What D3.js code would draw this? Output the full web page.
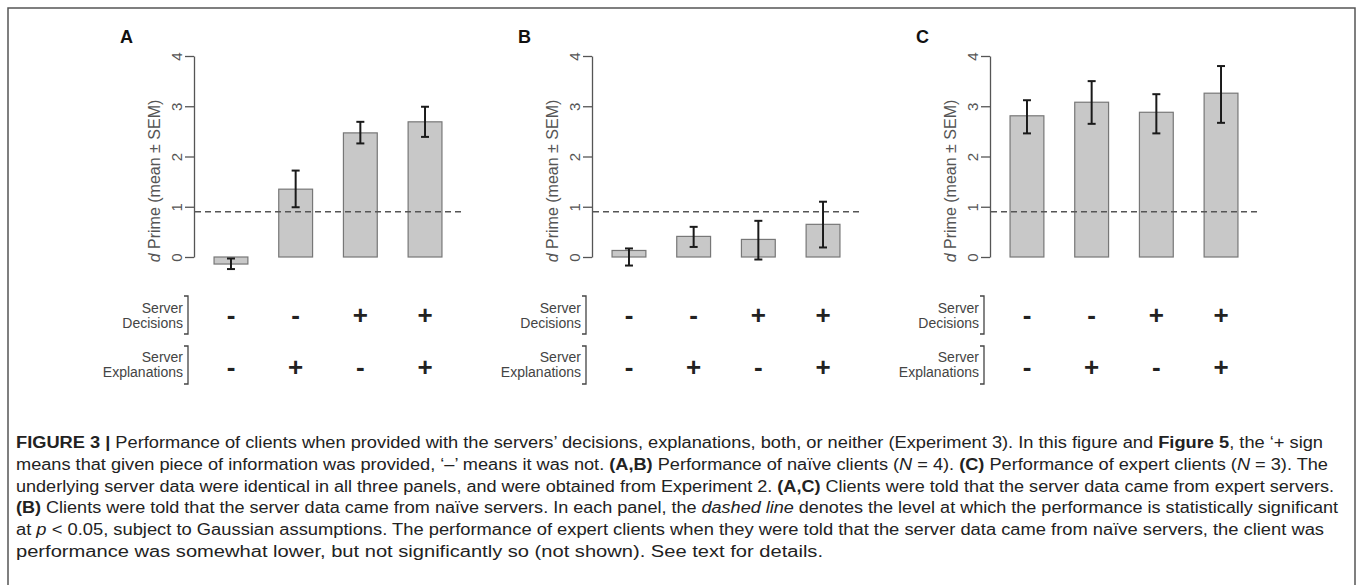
<!DOCTYPE html>
<html>
<head>
<meta charset="utf-8">
<script src="https://cdn.jsdelivr.net/npm/d3@7"></script>
<style>
  body { margin: 0; background: #fff; }
  svg text { font-family: "Liberation Sans", Arial, sans-serif; }
</style>
</head>
<body>
<script>
// panels and conditions
var panels = ["A", "B", "C"];
var conditions = [0, 1, 2, 3];
var decisions = ["-", "-", "+", "+"];
var explanations = ["-", "+", "-", "+"];

// d prime mean and error bar ends, per panel
var meanA = [-0.14, 1.35, 2.47, 2.69];
var lowA  = [-0.24, 0.99, 2.26, 2.39];
var highA = [-0.03, 1.72, 2.69, 2.99];

var meanB = [0.13, 0.41, 0.35, 0.65];
var lowB  = [-0.17, 0.20, -0.05, 0.19];
var highB = [0.17, 0.60, 0.72, 1.10];

var meanC = [2.81, 3.08, 2.88, 3.26];
var lowC  = [2.46, 2.65, 2.46, 2.67];
var highC = [3.12, 3.50, 3.24, 3.80];

var yTicks = [0, 1, 2, 3, 4];
var threshold = 0.9;

var panelData = [
  {name: panels[0], mean: meanA, low: lowA, high: highA},
  {name: panels[1], mean: meanB, low: lowB, high: highB},
  {name: panels[2], mean: meanC, low: lowC, high: highC}
];

var svg = d3.select("body").append("svg")
    .attr("width", 1358)
    .attr("height", 585);

// frame
svg.append("rect")
    .attr("x", 8).attr("y", 8)
    .attr("width", 1347).attr("height", 620)
    .attr("fill", "none")
    .attr("stroke", "#555")
    .attr("stroke-width", 1.5);

var y = d3.scaleLinear().domain([0, 4]).range([257, 56]);
var x = d3.scaleBand().domain(conditions).range([0, 268])
    .paddingInner(0.477).paddingOuter(0.31);

panelData.forEach(function(p, i) {
  var ox = 194 + i * 398;
  var g = svg.append("g").attr("transform", "translate(" + ox + ",0)");

  g.append("text")
      .attr("x", -74).attr("y", 43)
      .attr("font-size", 18).attr("font-weight", "bold").attr("fill", "#111")
      .text(p.name);

  // y axis, R style with rotated labels
  var ax = g.append("g")
      .attr("class", "y axis")
      .call(d3.axisLeft(y).tickValues(yTicks).tickFormat(d3.format("d"))
        .tickSize(9).tickSizeOuter(0));
  ax.select(".domain").attr("stroke", "#555").attr("stroke-width", 1.3);
  ax.selectAll(".tick line").attr("stroke", "#555").attr("stroke-width", 1.3);
  ax.selectAll(".tick text")
      .attr("x", 0).attr("dy", 0)
      .attr("text-anchor", "middle")
      .attr("transform", "translate(-12,0) rotate(-90)")
      .attr("font-size", 15)
      .attr("font-family", "Liberation Sans, Arial, sans-serif")
      .attr("fill", "#555");

  var title = g.append("text")
      .attr("transform", "translate(-34,181) rotate(-90)")
      .attr("text-anchor", "middle")
      .attr("font-size", 16)
      .attr("fill", "#555");
  title.append("tspan").attr("font-style", "italic").text("d");
  title.append("tspan").text(" Prime (mean \u00b1 SEM)");

  // bars
  g.selectAll(".bar")
      .data(conditions)
    .enter().append("rect")
      .attr("class", "bar")
      .attr("x", function(d) { return x(d); })
      .attr("width", x.bandwidth())
      .attr("y", function(d) { return y(Math.max(0, p.mean[d])); })
      .attr("height", function(d) { return Math.abs(y(p.mean[d]) - y(0)); })
      .attr("fill", "#c8c8c8")
      .attr("stroke", "#777")
      .attr("stroke-width", 1.2);

  // significance level
  g.append("line")
      .attr("x1", 1).attr("x2", 268)
      .attr("y1", y(threshold)).attr("y2", y(threshold))
      .attr("stroke", "#555")
      .attr("stroke-width", 1.5)
      .attr("stroke-dasharray", "6,4");

  // error bars
  var eb = g.selectAll(".err")
      .data(conditions)
    .enter().append("g")
      .attr("class", "err")
      .attr("stroke", "#1a1a1a")
      .attr("stroke-width", 2);
  eb.append("line")
      .attr("x1", function(d) { return x(d) + x.bandwidth() / 2; })
      .attr("x2", function(d) { return x(d) + x.bandwidth() / 2; })
      .attr("y1", function(d) { return y(p.low[d]); })
      .attr("y2", function(d) { return y(p.high[d]); });
  ["low", "high"].forEach(function(k) {
    eb.append("line")
        .attr("x1", function(d) { return x(d) + x.bandwidth() / 2 - 4; })
        .attr("x2", function(d) { return x(d) + x.bandwidth() / 2 + 4; })
        .attr("y1", function(d) { return y(p[k][d]); })
        .attr("y2", function(d) { return y(p[k][d]); });
  });

  // condition table under the bars
  var rows = [
    {lines: ["Server", "Decisions"], signs: decisions, top: 296, base: 313, signBase: 324},
    {lines: ["Server", "Explanations"], signs: explanations, top: 346, base: 362, signBase: 376}
  ];
  rows.forEach(function(r) {
    r.lines.forEach(function(t, j) {
      g.append("text")
          .attr("x", -11).attr("y", r.base + j * 15)
          .attr("text-anchor", "end")
          .attr("font-size", 14)
          .attr("fill", "#444")
          .text(t);
    });
    g.append("path")
        .attr("d", "M-10," + r.top + "H-6V" + (r.top + 38) + "H-10")
        .attr("fill", "none")
        .attr("stroke", "#444")
        .attr("stroke-width", 1.3);
    g.selectAll(null)
        .data(conditions)
      .enter().append("text")
        .attr("x", function(d) { return x(d) + x.bandwidth() / 2; })
        .attr("y", r.signBase)
        .attr("text-anchor", "middle")
        .attr("font-size", 26)
        .attr("font-weight", "bold")
        .attr("fill", "#222")
        .text(function(d) { return r.signs[d]; });
  });
});

// caption
var caption = [
  [["b", "FIGURE 3 | "], ["", "Performance of clients when provided with the servers\u2019 decisions, explanations, both, or neither (Experiment 3). In this figure and "], ["b", "Figure 5"], ["", ", the \u2018+ sign"]],
  [["", "means that given piece of information was provided, \u2018\u2013\u2019 means it was not. "], ["b", "(A,B)"], ["", " Performance of na\u00efve clients ("], ["i", "N"], ["", " = 4). "], ["b", "(C)"], ["", " Performance of expert clients ("], ["i", "N"], ["", " = 3). The"]],
  [["", "underlying server data were identical in all three panels, and were obtained from Experiment 2. "], ["b", "(A,C)"], ["", " Clients were told that the server data came from expert servers."]],
  [["b", "(B)"], ["", " Clients were told that the server data came from na\u00efve servers. In each panel, the "], ["i", "dashed line"], ["", " denotes the level at which the performance is statistically significant"]],
  [["", "at "], ["i", "p"], ["", " < 0.05, subject to Gaussian assumptions. The performance of expert clients when they were told that the server data came from na\u00efve servers, the client was"]],
  [["", "performance was somewhat lower, but not significantly so (not shown). See text for details."]]
];
var lineEnds = [1323, 1328, 1334, 1338, 1324, 823];

caption.forEach(function(parts, i) {
  var t = svg.append("text")
      .attr("x", 16)
      .attr("y", 448 + i * 21.8)
      .attr("font-size", 16)
      .attr("fill", "#222")
      .attr("textLength", lineEnds[i] - 16)
      .attr("lengthAdjust", "spacingAndGlyphs");
  parts.forEach(function(s) {
    var ts = t.append("tspan").text(s[1]);
    if (s[0] === "b") ts.attr("font-weight", "bold");
    if (s[0] === "i") ts.attr("font-style", "italic");
  });
});
</script>
</body>
</html>
